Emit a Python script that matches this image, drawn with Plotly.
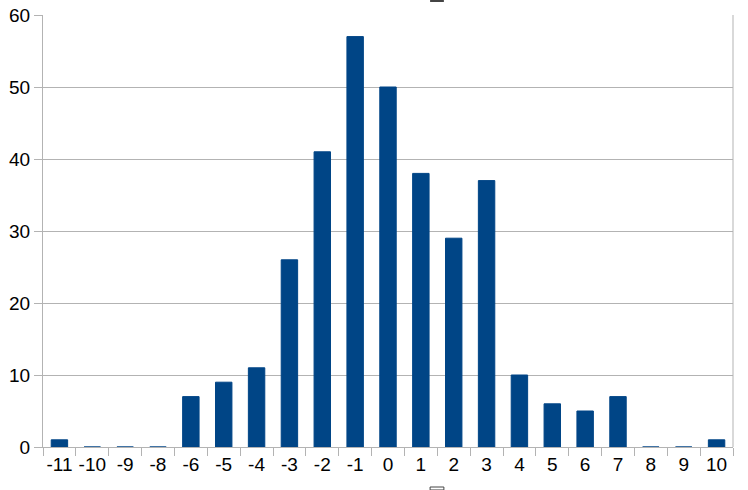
import plotly.graph_objects as go

# Histogram-like counts per category (note: -7 is absent in the source)
categories = ["-11", "-10", "-9", "-8", "-6", "-5", "-4", "-3", "-2", "-1",
              "0", "1", "2", "3", "4", "5", "6", "7", "8", "9", "10"]
counts = [1, 0, 0, 0, 7, 9, 11, 26, 41, 57, 50, 38, 29, 37, 10, 6, 5, 7, 0, 0, 1]
y_ticks = [0, 10, 20, 30, 40, 50, 60]

BAR_COLOR = "#004586"
GRID_COLOR = "#b3b3b3"

fig = go.Figure()

fig.add_trace(go.Bar(
    x=categories,
    y=counts,
    marker_color=BAR_COLOR,
    marker_line=dict(color=BAR_COLOR, width=1),
    showlegend=False,
))

fig.update_layout(
    width=748,
    height=490,
    margin=dict(l=43, r=15, t=15, b=43, pad=0),
    paper_bgcolor="white",
    plot_bgcolor="white",
    bargap=0.5,
    font=dict(family="Liberation Sans, Arial, sans-serif", size=19, color="black"),
    xaxis=dict(
        type="category",
        tickson="boundaries",
        ticks="outside",
        ticklen=8,
        tickcolor=GRID_COLOR,
        tickangle=0,
        showline=True,
        linecolor=GRID_COLOR,
        showgrid=False,
        automargin=False,
    ),
    yaxis=dict(
        range=[0, 60],
        tickvals=y_ticks,
        ticks="outside",
        ticklen=8,
        tickcolor=GRID_COLOR,
        showline=True,
        linecolor=GRID_COLOR,
        gridcolor=GRID_COLOR,
        zeroline=False,
        automargin=False,
    ),
    shapes=[
        # right border of the plot area
        dict(type="line", xref="paper", yref="paper", x0=1, x1=1, y0=0, y1=1,
             line=dict(color=GRID_COLOR, width=1)),
        # small selection handles above and below the chart
        dict(type="rect", xref="paper", yref="paper", x0=0.561, x1=0.581,
             y0=1.0301, y1=1.0347, line=dict(width=0), fillcolor="#444444"),
        dict(type="rect", xref="paper", yref="paper", x0=0.561, x1=0.581,
             y0=-0.0995, y1=-0.0926, line=dict(color="#444444", width=1),
             fillcolor="white"),
    ],
)

fig.write_html("out.html", config={"displayModeBar": False},
               post_script="document.body.style.margin='0';")
